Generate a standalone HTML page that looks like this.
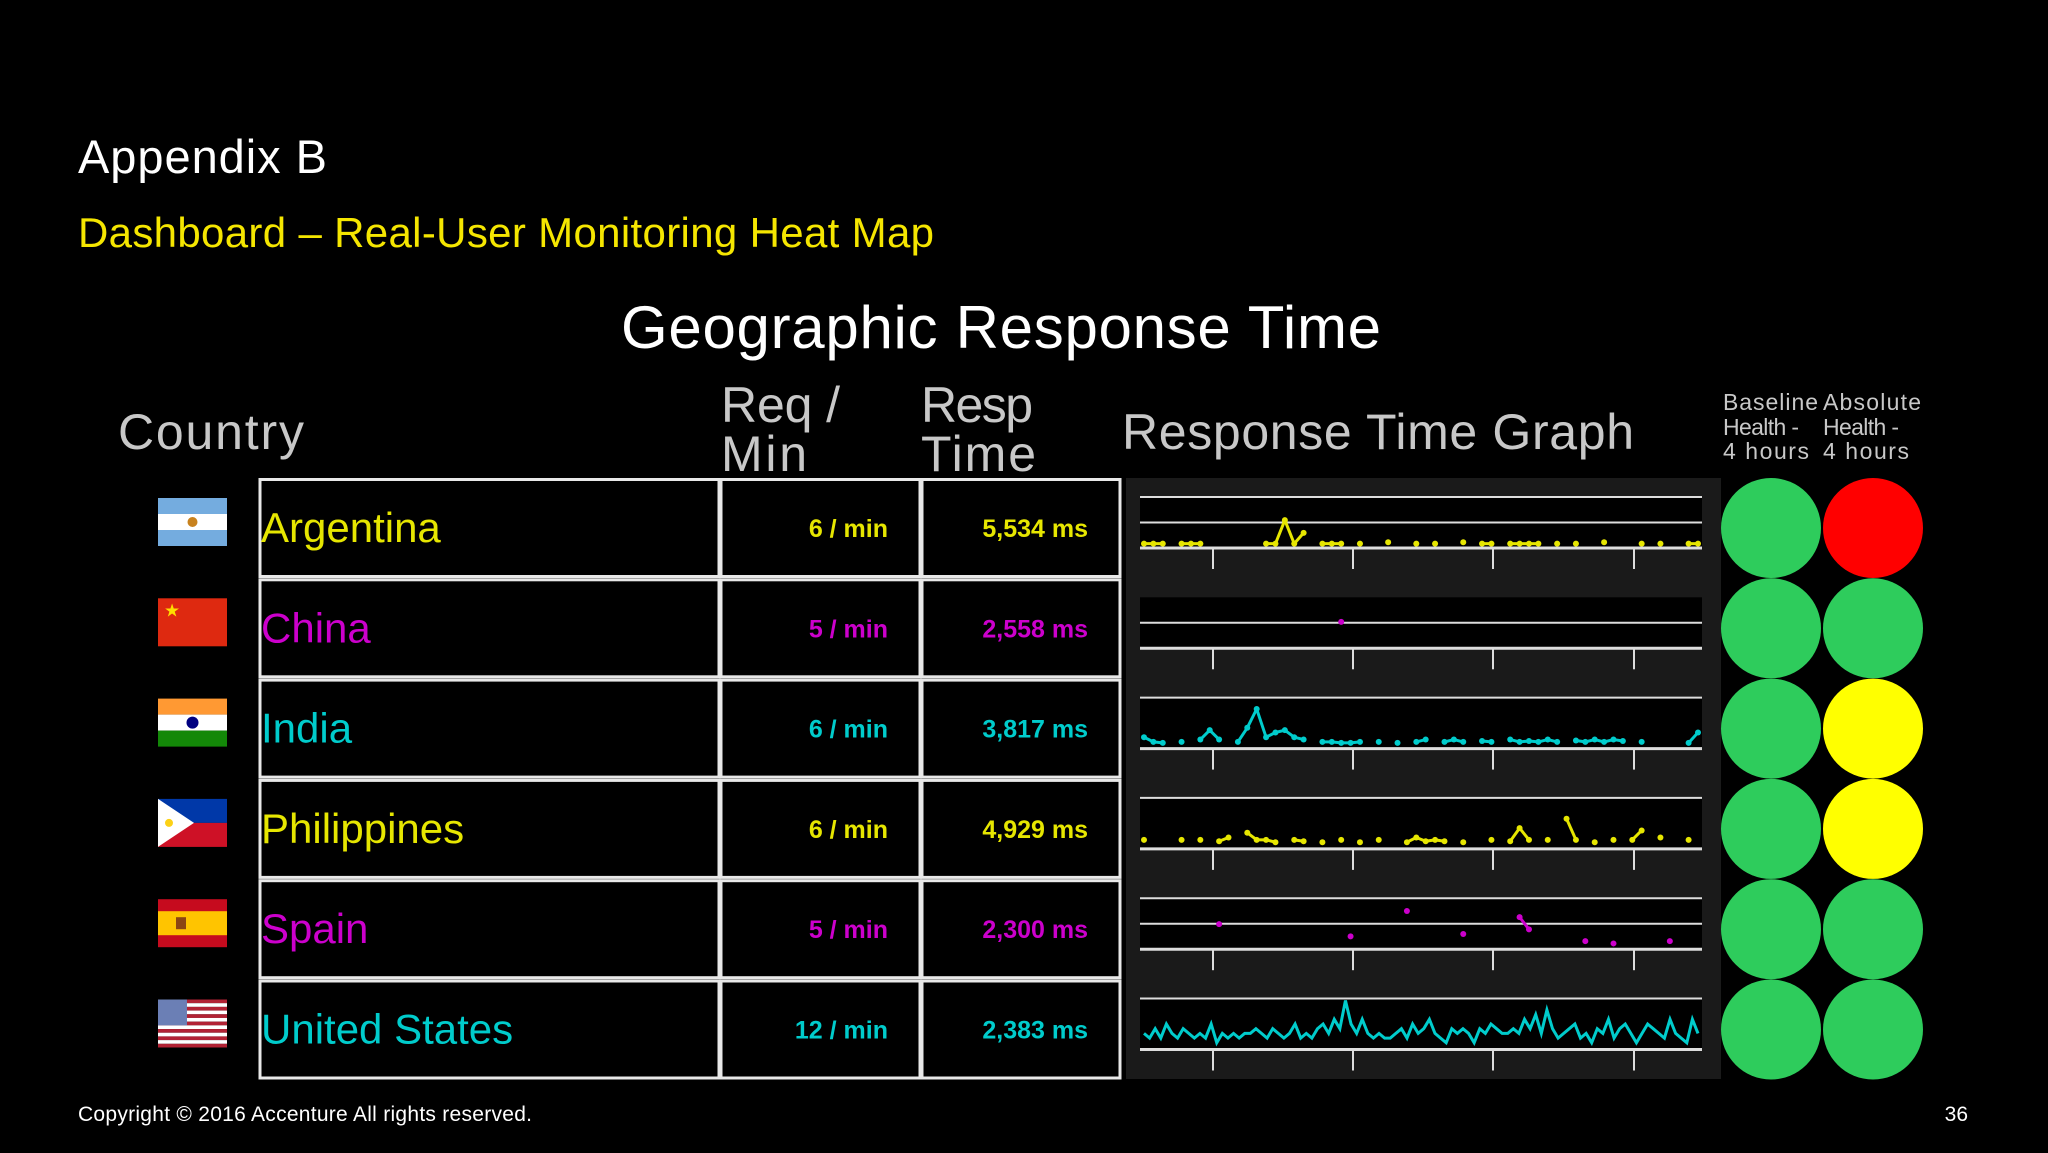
<!DOCTYPE html>
<html><head><meta charset="utf-8">
<style>
html,body{margin:0;padding:0;background:#000;}
svg{display:block;font-family:"Liberation Sans",sans-serif;}
</style></head>
<body>
<svg id="page" width="2048" height="1153" viewBox="0 0 2048 1153" xmlns="http://www.w3.org/2000/svg">
<rect width="2048" height="1153" fill="#000"/>
<text x="78" y="173" font-size="47" fill="#fff" textLength="249">Appendix B</text>
<text x="78" y="247" font-size="42" fill="#f5e600" textLength="856">Dashboard – Real-User Monitoring Heat Map</text>
<text x="621" y="348" font-size="60" fill="#fff" textLength="760">Geographic Response Time</text>
<g fill="#c8c8c8" font-size="50">
<text x="118" y="449" textLength="186">Country</text>
<text x="721" y="422" textLength="119">Req /</text>
<text x="721" y="471" textLength="86">Min</text>
<text x="921" y="422" textLength="112">Resp</text>
<text x="921" y="471" textLength="115">Time</text>
<text x="1122" y="449" textLength="512">Response Time Graph</text>
</g>
<g fill="#c8c8c8" font-size="23">
<text x="1723" y="410" textLength="95">Baseline</text>
<text x="1723" y="435" textLength="76">Health -</text>
<text x="1723" y="459" textLength="86">4 hours</text>
<text x="1823" y="410" textLength="98">Absolute</text>
<text x="1823" y="435" textLength="76">Health -</text>
<text x="1823" y="459" textLength="86">4 hours</text>
</g>
<rect x="1126" y="478" width="595" height="601" fill="#1a1a1a"/>
<g id="rows"></g>
<text x="78" y="1121" font-size="21" fill="#fff" textLength="454">Copyright © 2016 Accenture  All rights reserved.</text>
<text x="1968" y="1121" font-size="21" fill="#fff" text-anchor="end">36</text>
</svg>
<script>
const countries = ["Argentina","China","India","Philippines","Spain","United States"];
const reqPerMin = ["6 / min","5 / min","6 / min","6 / min","5 / min","12 / min"];
const respTime = ["5,534 ms","2,558 ms","3,817 ms","4,929 ms","2,300 ms","2,383 ms"];
const baselineHealth = ["green","green","green","green","green","green"];
const absoluteHealth = ["red","green","yellow","yellow","green","green"];
const n = null;
const argSeries = [.5,.5,.5,n,.5,.5,.5,n,n,n,n,n,n,.5,.5,5.5,.5,2.8,n,.5,.5,.5,n,.5,n,n,.8,n,n,.5,n,.5,n,n,.8,n,.5,.5,n,.5,.5,.5,.5,n,.5,n,.5,n,n,.8,n,n,n,.5,n,.5,n,n,.5,.5];
const chinaSeries = [n,n,n,n,n,n,n,n,n,n,n,n,n,n,n,n,n,n,n,n,n,5.2,n,n,n,n,n,n,n,n,n,n,n,n,n,n,n,n,n,n,n,n,n,n,n,n,n,n,n,n,n,n,n,n,n,n,n,n,n,n];
const indiaSeries = [2,1,.8,n,1,n,1.5,3.5,1.5,n,1,4,8,2,3,3.5,2,1.5,n,1,1,.8,.8,1,n,1,n,.8,n,1,1.5,n,1,1.5,1,n,1.2,1,n,1.5,1,1.2,1,1.5,1,n,1.3,1,1.5,1,1.5,1.2,n,1,n,n,n,n,.8,3];
const philSeries = [1.5,n,n,n,1.5,n,1.5,n,1.2,2,n,3,1.5,1.5,1,n,1.5,1.2,n,1,n,1.5,n,1,n,1.5,n,n,1,2,1.2,1.5,1.2,n,1,n,n,1.5,n,1.2,4,1.5,n,1.5,n,6,1.5,n,1,n,1.5,n,1.5,3.5,n,2,n,n,1.5,n];
const spainSeries = [n,n,n,n,n,n,n,n,4.9,n,n,n,n,n,n,n,n,n,n,n,n,n,2.3,n,n,n,n,n,7.7,n,n,n,n,n,2.8,n,n,n,n,n,6.4,3.8,n,n,n,n,n,1.3,n,n,0.8,n,n,n,n,n,1.3,n,n,n];
const usSeries = [3,2,4,2,5,3,2,4,3,2,3,2,5,1,3,2,3,2,3,3,4,3,2,4,3,2,3,5,2,3,2,4,5,3,6,4,10,5,3,6,3,2,3,2,2,3,4,2,5,3,4,6,3,2,1,4,3,4,3,1,4,3,5,4,3,3,4,3,6,4,7,3,8,4,2,3,4,5,2,3,1,4,3,6,2,4,5,3,1,3,5,4,3,2,6,3,2,1,6,3];
const series = [argSeries,chinaSeries,indiaSeries,philSeries,spainSeries,usSeries];
const rowColors = ["#e6e600","#cc00cc","#00cccc","#e6e600","#cc00cc","#00cccc"];
const gridTop = [true,false,true,true,true,true];
const gridMid = [true,true,false,false,true,false];
const healthColors = {green:"#2ecc5c",red:"#ff0000",yellow:"#ffff00"};

const NS="http://www.w3.org/2000/svg";
const rowsG=document.getElementById('rows');
const rowTop=i=>478+i*100.3;
const boxX0=1140, boxX1=1702, boxH=51;
function el(t,a,p){const e=document.createElementNS(NS,t);for(const k in a)e.setAttribute(k,a[k]);(p||rowsG).appendChild(e);return e;}

function flag(i,g){
  const x=158,y=rowTop(i)+20,w=69,h=48;
  if(i===0){el('rect',{x,y,width:w,height:h,fill:'#74acdf'},g);el('rect',{x,y:y+h/3,width:w,height:h/3,fill:'#fff'},g);el('circle',{cx:x+w/2,cy:y+h/2,r:5,fill:'#c8821e'},g);}
  if(i===1){el('rect',{x,y,width:w,height:h,fill:'#de2910'},g);el('text',{x:x+6,y:y+18,'font-size':18,fill:'#ffde00'},g).textContent='★';}
  if(i===2){el('rect',{x,y,width:w,height:h/3,fill:'#ff9933'},g);el('rect',{x,y:y+h/3,width:w,height:h/3,fill:'#fff'},g);el('rect',{x,y:y+2*h/3,width:w,height:h/3,fill:'#138808'},g);el('circle',{cx:x+w/2,cy:y+h/2,r:6,fill:'#000080'},g);}
  if(i===3){el('rect',{x,y,width:w,height:h/2,fill:'#0038a8'},g);el('rect',{x,y:y+h/2,width:w,height:h/2,fill:'#ce1126'},g);el('polygon',{points:`${x},${y} ${x+36},${y+h/2} ${x},${y+h}`,fill:'#fff'},g);el('circle',{cx:x+11,cy:y+h/2,r:4,fill:'#fcd116'},g);}
  if(i===4){el('rect',{x,y,width:w,height:h,fill:'#c60b1e'},g);el('rect',{x,y:y+h/4,width:w,height:h/2,fill:'#ffc400'},g);el('rect',{x:x+18,y:y+18,width:10,height:12,fill:'#8b4513'},g);}
  if(i===5){for(let s=0;s<13;s++)el('rect',{x,y:y+s*h/13,width:w,height:h/13,fill:s%2?'#fff':'#b22234'},g);el('rect',{x,y,width:w*0.42,height:h*7/13,fill:'#6b7fb5'},g);}
}

for(let i=0;i<countries.length;i++){
  const g=el('g',{});
  
  
  const t=rowTop(i), c=rowColors[i];
  const fg=el('g',{},g);
  
  
  flag(i,fg);
  const cells=[[260,460],[721,200],[922,199]];
  cells.forEach(([cx,cw])=>{const r=el('rect',{x:cx,y:t+1.5,width:cw-1,height:97,fill:'#000',stroke:'#e8e8e8','stroke-width':3},g);
    
    });
  const nm=el('text',{x:261,y:t+64,'font-size':42,fill:c},g);
  
  
  nm.textContent=countries[i];
  const rq=el('text',{x:888,y:t+59,'font-size':25,'font-weight':'bold',fill:c,'text-anchor':'end'},g);
  
  
  rq.textContent=reqPerMin[i];
  const rs=el('text',{x:1088,y:t+59,'font-size':25,'font-weight':'bold',fill:c,'text-anchor':'end'},g);
  
  
  rs.textContent=respTime[i];
  // sparkline
  const by=t+19, bb=by+boxH;
  const sg=el('g',{},g);
  
  
  el('rect',{x:boxX0,y:by,width:boxX1-boxX0,height:boxH,fill:'#000'},sg);
  if(gridTop[i])el('line',{x1:boxX0,x2:boxX1,y1:by,y2:by,stroke:'#ddd','stroke-width':2},sg);
  if(gridMid[i])el('line',{x1:boxX0,x2:boxX1,y1:by+boxH/2,y2:by+boxH/2,stroke:'#ddd','stroke-width':2},sg);
  el('line',{x1:boxX0,x2:boxX1,y1:bb,y2:bb,stroke:'#ddd','stroke-width':3},sg);
  [1213,1353,1493,1634].forEach(tx=>el('line',{x1:tx,x2:tx,y1:bb,y2:bb+21,stroke:'#ddd','stroke-width':2},sg));
  const d=series[i], N=d.length;
  const xs=k=>boxX0+4+k*(boxX1-boxX0-8)/(N-1);
  const ys=v=>bb-2-v/10*(boxH-4);
  if(i===5){
    const pts=d.map((v,k)=>xs(k)+','+ys(v)).join(' ');
    const pl=el('polyline',{points:pts,fill:'none',stroke:c,'stroke-width':3},sg);
    
    
  } else {
    for(let k=0;k<N;k++){
      if(d[k]==null)continue;
      if(k>0&&d[k-1]!=null)el('line',{x1:xs(k-1),y1:ys(d[k-1]),x2:xs(k),y2:ys(d[k]),stroke:c,'stroke-width':3},sg);
      const p=el('circle',{cx:xs(k),cy:ys(d[k]),r:3,fill:c},sg);
      
      
    }
  }
  const cy=t+50;
  const b=el('circle',{cx:1771,cy,r:50,fill:healthColors[baselineHealth[i]]},g);
  
  
  const a=el('circle',{cx:1873,cy,r:50,fill:healthColors[absoluteHealth[i]]},g);
  
  
}
</script>
</body></html>
